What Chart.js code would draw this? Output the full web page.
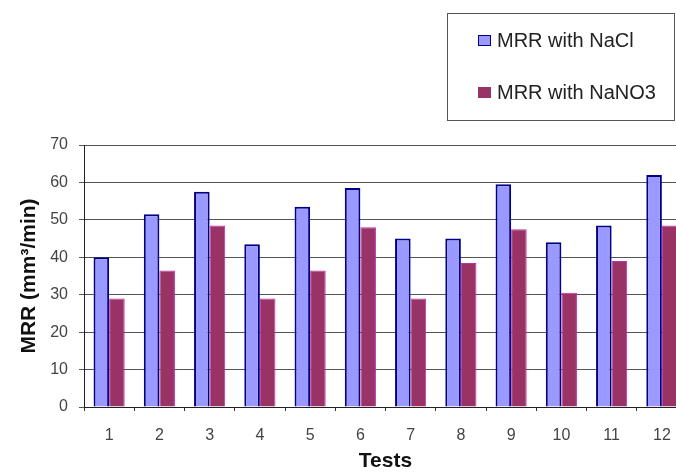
<!DOCTYPE html>
<html>
<head>
<meta charset="utf-8">
<script src="https://cdn.jsdelivr.net/npm/chart.js@4.4.1/dist/chart.umd.min.js"></script>
<style>
  html, body { margin: 0; padding: 0; background: #fff; overflow: hidden; }
  #wrap { position: relative; width: 700px; height: 474px; }
</style>
</head>
<body>
<div id="wrap"><canvas id="c" width="700" height="474"></canvas></div>
<script>
// Material removal rate per test, for two electrolytes
const tests = ['1', '2', '3', '4', '5', '6', '7', '8', '9', '10', '11', '12'];
const mrrNaCl  = [40, 51.5, 57.5, 43.5, 53.5, 58.5, 45, 45, 59.5, 44, 48.5, 62];
const mrrNaNO3 = [29, 36.5, 48.5, 29, 36.5, 48, 29, 38.5, 47.5, 30.5, 39, 48.5];
const yTicks   = [0, 10, 20, 30, 40, 50, 60, 70];

const FONT = '"Liberation Sans", Arial, sans-serif';

// Boxed legend in the upper right corner
const boxLegend = {
  id: 'boxLegend',
  afterDraw(chart) {
    const ctx = chart.ctx;
    ctx.save();
    ctx.strokeStyle = '#555';
    ctx.lineWidth = 1;
    ctx.strokeRect(447.5, 13.5, 227, 107);
    const rows = [41, 93];
    chart.data.datasets.forEach((ds, i) => {
      const y = rows[i];
      ctx.fillStyle = ds.backgroundColor;
      ctx.fillRect(478, y - 6, 13, 11);
      if (i === 0) {
        ctx.strokeStyle = ds.borderColor;
        ctx.lineWidth = 1;
        ctx.strokeRect(478.5, y - 5.5, 12, 10);
      }
      ctx.fillStyle = '#222';
      ctx.font = '20px ' + FONT;
      ctx.textBaseline = 'middle';
      ctx.textAlign = 'left';
      ctx.fillText(ds.label, 497, y);
    });
    ctx.restore();
  }
};

new Chart(document.getElementById('c'), {
  type: 'bar',
  data: {
    labels: tests,
    datasets: [
      {
        label: 'MRR with NaCl',
        data: mrrNaCl,
        backgroundColor: '#9999ff',
        borderColor: '#000080',
        borderWidth: 2,
        categoryPercentage: 0.62,
        barPercentage: 1.0
      },
      {
        label: 'MRR with NaNO3',
        data: mrrNaNO3,
        backgroundColor: '#993366',
        borderColor: '#c02cb0',
        borderWidth: 1,
        categoryPercentage: 0.62,
        barPercentage: 1.0
      }
    ]
  },
  options: {
    responsive: false,
    animation: false,
    layout: { padding: { top: 145, left: 17, right: 13, bottom: 0 } },
    plugins: {
      legend: { display: false },
      tooltip: { enabled: false }
    },
    scales: {
      x: {
        afterFit(scale) { scale.height = 67; },
        grid: {
          display: true,
          drawOnChartArea: false,
          drawTicks: true,
          tickLength: 4,
          color: '#333'
        },
        border: { display: true, color: '#222', width: 1 },
        ticks: {
          color: '#444',
          padding: 15,
          font: { family: FONT, size: 16 }
        },
        title: {
          display: true,
          text: 'Tests',
          color: '#111',
          padding: { top: 0, bottom: 0 },
          font: { family: FONT, size: 21, weight: 'bold' }
        }
      },
      y: {
        min: 0,
        max: 70,
        afterFit(scale) { scale.width = 67; },
        afterBuildTicks(scale) { scale.ticks = yTicks.map(v => ({ value: v })); },
        grid: {
          color: '#555',
          lineWidth: 1,
          tickLength: 5
        },
        border: { display: true, color: '#222', width: 1 },
        ticks: {
          color: '#444',
          padding: 11,
          font: { family: FONT, size: 16 }
        },
        title: {
          display: true,
          text: 'MRR (mm³/min)',
          color: '#111',
          padding: { top: 0, bottom: 0 },
          font: { family: FONT, size: 21, weight: 'bold' }
        }
      }
    }
  },
  plugins: [boxLegend]
});
</script>
</body>
</html>
